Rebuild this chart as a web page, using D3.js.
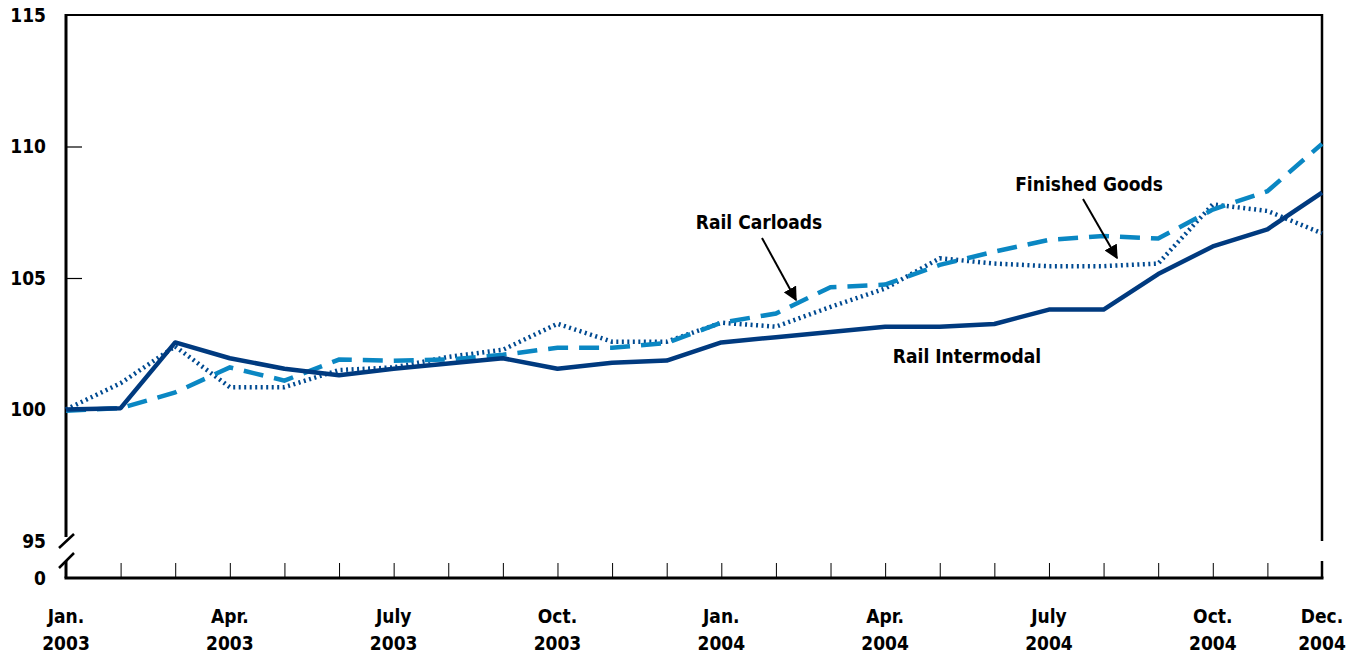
<!DOCTYPE html>
<html>
<head>
<meta charset="utf-8">
<script src="https://cdn.jsdelivr.net/npm/d3@7"></script>
<style>
  body { margin: 0; background: #fff; }
  text { font-family: "DejaVu Sans Condensed", "Liberation Sans Narrow", sans-serif; font-weight: bold; }
</style>
</head>
<body>
<div id="chart"></div>
<script>
// months Jan 2003 .. Dec 2004
var months = ["Jan. 2003","Feb. 2003","Mar. 2003","Apr. 2003","May 2003","June 2003","July 2003","Aug. 2003","Sep. 2003","Oct. 2003","Nov. 2003","Dec. 2003",
              "Jan. 2004","Feb. 2004","Mar. 2004","Apr. 2004","May 2004","June 2004","July 2004","Aug. 2004","Sep. 2004","Oct. 2004","Nov. 2004","Dec. 2004"];

var railIntermodal = [100.0, 100.05, 102.55, 101.95, 101.55, 101.3, 101.55, 101.75, 101.95, 101.55, 101.78, 101.86,
                      102.55, 102.75, 102.95, 103.15, 103.15, 103.25, 103.8, 103.8, 105.15, 106.2, 106.85, 108.25];
var finishedGoods  = [100.0, 101.0, 102.4, 100.85, 100.85, 101.5, 101.6, 102.0, 102.27, 103.26, 102.58, 102.58,
                      103.3, 103.15, 103.9, 104.6, 105.75, 105.55, 105.45, 105.45, 105.55, 107.8, 107.55, 106.7];
var railCarloads   = [99.95, 100.05, 100.65, 101.6, 101.1, 101.9, 101.85, 101.9, 102.08, 102.35, 102.35, 102.53,
                      103.3, 103.65, 104.65, 104.75, 105.5, 106.0, 106.45, 106.6, 106.5, 107.6, 108.3, 110.1];

var yTicks = [95, 100, 105, 110, 115];
// index of labelled months and their two-line label
var xLabelIdx = [0, 3, 6, 9, 12, 15, 18, 21, 23];
var xLabelTop = ["Jan.", "Apr.", "July", "Oct.", "Jan.", "Apr.", "July", "Oct.", "Dec."];
var xLabelBot = ["2003", "2003", "2003", "2003", "2004", "2004", "2004", "2004", "2004"];

var W = 1359, H = 654;
var plotL = 66, plotR = 1322, plotT = 15, plotB = 541, axisY = 578;

var svg = d3.select("#chart").append("svg")
    .attr("width", W).attr("height", H);

var x = d3.scaleLinear().domain([0, months.length - 1]).range([plotL, plotR]);
var y = d3.scaleLinear().domain([95, 115]).range([plotB, plotT]);

// frame: top line, left and right with breaks
svg.append("line").attr("x1", plotL).attr("x2", plotR).attr("y1", plotT).attr("y2", plotT)
  .attr("stroke", "#000").attr("stroke-width", 2);
svg.append("line").attr("x1", plotL).attr("x2", plotL).attr("y1", plotT - 1).attr("y2", 537)
  .attr("stroke", "#000").attr("stroke-width", 3);
svg.append("line").attr("x1", plotL).attr("x2", plotL).attr("y1", 561).attr("y2", axisY)
  .attr("stroke", "#000").attr("stroke-width", 3);
svg.append("line").attr("x1", plotR).attr("x2", plotR).attr("y1", plotT - 1).attr("y2", 541)
  .attr("stroke", "#000").attr("stroke-width", 2.5);
svg.append("line").attr("x1", plotR).attr("x2", plotR).attr("y1", 561).attr("y2", axisY)
  .attr("stroke", "#000").attr("stroke-width", 2.5);

// break slashes
[[548, 534], [568, 553]].forEach(function(s) {
  svg.append("line").attr("x1", 59).attr("y1", s[0]).attr("x2", 74).attr("y2", s[1])
    .attr("stroke", "#000").attr("stroke-width", 2.5);
});

// bottom axis
var xAxis = d3.axisBottom(x)
  .tickValues(d3.range(months.length))
  .tickSize(-15)
  .tickFormat("");
var gx = svg.append("g").attr("transform", "translate(0," + axisY + ")").call(xAxis);
gx.select(".domain").remove();
gx.selectAll(".tick line").attr("stroke", "#000").attr("stroke-width", 1);
svg.append("line").attr("x1", plotL - 1.5).attr("x2", plotR + 1.5).attr("y1", axisY).attr("y2", axisY)
  .attr("stroke", "#000").attr("stroke-width", 3);

// y ticks inside
var yAxis = d3.axisLeft(y).tickValues([100, 105, 110]).tickSize(-16).tickFormat("");
var gy = svg.append("g").attr("transform", "translate(" + plotL + ",0)").call(yAxis);
gy.select(".domain").remove();
gy.selectAll(".tick line").attr("stroke", "#000").attr("stroke-width", 1.2);

// y labels
svg.selectAll(".ylab").data(yTicks).enter().append("text")
  .attr("x", 46).attr("y", function(d) { return y(d); })
  .attr("dy", "0.36em").attr("text-anchor", "end")
  .style("font-size", "19px").text(function(d) { return d; });
svg.append("text").attr("x", 46).attr("y", axisY).attr("dy", "0.36em")
  .attr("text-anchor", "end").style("font-size", "19px").text("0");

// x labels
xLabelIdx.forEach(function(i, k) {
  svg.append("text").attr("x", x(i)).attr("y", 623).attr("text-anchor", "middle")
    .style("font-size", "19px").text(xLabelTop[k]);
  svg.append("text").attr("x", x(i)).attr("y", 650).attr("text-anchor", "middle")
    .style("font-size", "19px").text(xLabelBot[k]);
});

var line = d3.line().x(function(d, i) { return x(i); }).y(function(d) { return y(d); });

svg.append("path").datum(finishedGoods).attr("d", line)
  .attr("fill", "none").attr("stroke", "#004a91").attr("stroke-width", 4.5)
  .attr("stroke-dasharray", "2,3.5");
svg.append("path").datum(railCarloads).attr("d", line)
  .attr("fill", "none").attr("stroke", "#0a87c3").attr("stroke-width", 4.5)
  .attr("stroke-dasharray", "20,11");
svg.append("path").datum(railIntermodal).attr("d", line)
  .attr("fill", "none").attr("stroke", "#003a7f").attr("stroke-width", 4.5)
  .attr("stroke-linejoin", "round");

// annotations
svg.append("defs").append("marker").attr("id", "arr")
  .attr("viewBox", "0 0 10 10").attr("refX", 9).attr("refY", 5)
  .attr("markerWidth", 7).attr("markerHeight", 7).attr("orient", "auto")
  .append("path").attr("d", "M0,0 L10,5 L0,10 Z").attr("fill", "#000");

svg.append("text").attr("x", 759).attr("y", 229).attr("text-anchor", "middle")
  .style("font-size", "19px").text("Rail Carloads");
svg.append("line").attr("x1", 762).attr("y1", 238).attr("x2", 796).attr("y2", 300)
  .attr("stroke", "#000").attr("stroke-width", 2).attr("marker-end", "url(#arr)");

svg.append("text").attr("x", 1089).attr("y", 191).attr("text-anchor", "middle")
  .style("font-size", "19px").text("Finished Goods");
svg.append("line").attr("x1", 1083).attr("y1", 199).attr("x2", 1117).attr("y2", 258)
  .attr("stroke", "#000").attr("stroke-width", 2).attr("marker-end", "url(#arr)");

svg.append("text").attr("x", 967).attr("y", 363).attr("text-anchor", "middle")
  .style("font-size", "19px").text("Rail Intermodal");
</script>
</body>
</html>
